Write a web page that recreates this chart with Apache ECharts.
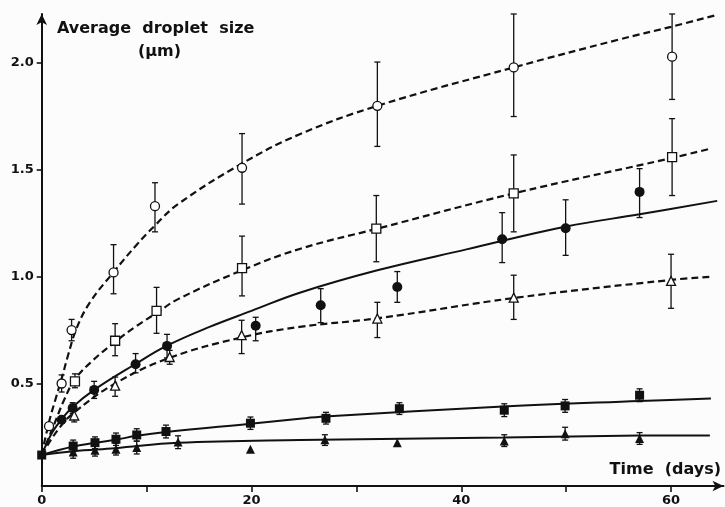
<!DOCTYPE html>
<html>
<head>
<meta charset="utf-8">
<script src="https://cdn.jsdelivr.net/npm/echarts@6/dist/echarts.min.js"></script>
<style>html,body{margin:0;padding:0;background:#fcfcfc;}#c{width:725px;height:507px;}</style>
</head>
<body>
<div id="c"></div>
<script>
// ---- data: [day, mean, errLow, errHigh] ----
const openCircles = [[0.7,0.30,null,null],[1.9,0.50,0.46,0.54],[2.85,0.75,0.70,0.80],[6.85,1.02,0.92,1.15],[10.8,1.33,1.21,1.44],[19.1,1.51,1.34,1.67],[32.0,1.80,1.61,2.005],[45.0,1.98,1.75,2.23],[60.1,2.03,1.83,2.23]];
const openSquares = [[3.17,0.51,0.48,0.545],[7.0,0.70,0.63,0.78],[10.95,0.84,0.735,0.95],[19.1,1.04,0.91,1.19],[31.9,1.225,1.07,1.38],[45.0,1.39,1.21,1.57],[60.1,1.56,1.38,1.74]];
const filledCircles = [[1.9,0.33,null,null],[2.95,0.385,0.36,0.41],[5.0,0.47,0.43,0.51],[8.95,0.59,0.55,0.64],[11.95,0.676,0.62,0.73],[20.4,0.77,0.70,0.81],[26.6,0.866,0.785,0.944],[33.9,0.952,0.88,1.024],[43.9,1.175,1.066,1.30],[49.95,1.227,1.10,1.36],[57.0,1.397,1.277,1.506]];
const openTriangles = [[3.1,0.35,0.32,0.38],[7.0,0.49,0.44,0.53],[12.2,0.624,0.59,0.655],[19.06,0.726,0.64,0.796],[32.0,0.804,0.715,0.88],[45.0,0.902,0.80,1.007],[60.0,0.98,0.852,1.105]];
const filledSquares = [[0,0.165,null,null],[3.0,0.207,0.18,0.235],[5.08,0.223,0.195,0.25],[7.08,0.239,0.21,0.268],[9.06,0.259,0.23,0.288],[11.85,0.275,0.245,0.305],[19.9,0.314,0.285,0.343],[27.1,0.337,0.31,0.365],[34.1,0.382,0.355,0.41],[44.1,0.375,0.345,0.405],[49.9,0.395,0.365,0.425],[57.0,0.445,0.415,0.475]];
const filledTriangles = [[3.0,0.179,0.15,0.205],[5.08,0.187,0.16,0.215],[7.08,0.192,0.165,0.22],[9.06,0.20,0.17,0.23],[13.0,0.226,0.195,0.255],[19.9,0.192,null,null],[27.0,0.236,0.21,0.26],[33.9,0.223,null,null],[44.1,0.231,0.205,0.26],[49.9,0.265,0.235,0.295],[57.0,0.242,0.215,0.27]];

// ---- fitted curves: [day, value] ----
const curveOpenCircles = [[0,0.165],[0.7,0.32],[1.4,0.44],[2.0,0.54],[2.5,0.63],[3.34,0.76],[4.6,0.88],[6.83,1.02],[9.06,1.15],[10.8,1.24],[13,1.34],[19.1,1.53],[24.6,1.667],[32,1.80],[45,1.98],[55,2.11],[60,2.17],[64.3,2.225]];
const curveOpenSquares = [[0,0.165],[1.2,0.31],[2.2,0.43],[3.17,0.52],[4.92,0.61],[7.0,0.695],[9.06,0.77],[10.95,0.83],[13,0.895],[19.1,1.03],[24.6,1.13],[32,1.225],[45,1.39],[60,1.555],[63.8,1.60]];
const curveFilledCircles = [[0,0.165],[1.0,0.27],[1.9,0.333],[2.95,0.39],[5.0,0.47],[8.9,0.59],[11.9,0.676],[16,0.765],[20,0.84],[24.6,0.925],[32,1.03],[40.5,1.128],[50,1.235],[57,1.292],[64.4,1.355]];
const curveOpenTriangles = [[0,0.165],[1.5,0.28],[3,0.36],[7,0.50],[12.2,0.62],[19,0.715],[24.6,0.765],[32,0.805],[45,0.90],[60,0.985],[64,1.0]];
const curveFilledSquares = [[0,0.165],[3,0.205],[5.08,0.222],[7.08,0.237],[9.06,0.255],[11.85,0.273],[19.9,0.312],[24.6,0.335],[27,0.345],[44,0.392],[57,0.418],[63.8,0.43]];
const curveFilledTriangles = [[0,0.165],[3,0.183],[7,0.197],[13,0.222],[24.6,0.235],[44,0.247],[57,0.256],[63.7,0.257]];

const xTicks = [0,10,20,30,40,50,60];
const xLabels = [0,20,40,60];
const yLabels = [0.5,1.0,1.5,2.0];

const chart = echarts.init(document.getElementById('c'));
const FONT = 'DejaVu Sans';

function errSeries(data){
  return {
    type:'custom', z:3, silent:true,
    data: data.filter(d=>d[2]!=null).map(d=>[d[0],d[2],d[3]]),
    renderItem:function(params, api){
      const x = api.value(0);
      const p1 = api.coord([x, api.value(1)]);
      const p2 = api.coord([x, api.value(2)]);
      const w = 3;
      const st = {stroke:'#111', lineWidth:1.3};
      return {type:'group', children:[
        {type:'line', shape:{x1:p1[0],y1:p1[1],x2:p2[0],y2:p2[1]}, style:st},
        {type:'line', shape:{x1:p1[0]-w,y1:p1[1],x2:p1[0]+w,y2:p1[1]}, style:st},
        {type:'line', shape:{x1:p2[0]-w,y1:p2[1],x2:p2[0]+w,y2:p2[1]}, style:st}
      ]};
    }
  };
}
function curve(data, dashed){
  return {type:'line', data:data, smooth:0.4, showSymbol:false, silent:true, z:2,
    lineStyle:{color:'#111', width: dashed?2.2:2, type: dashed?[7,4]:'solid'}};
}
function marks(data, symbol, filled, size){
  return {type:'scatter', data:data.map(d=>[d[0],d[1]]), symbol:symbol, symbolSize:size, z:5, silent:true,
    itemStyle:{color: filled?'#111':'#fff', borderColor:'#111', borderWidth: filled?0:1.3, opacity:1}};
}

chart.setOption({
  animation:false,
  backgroundColor:'#fcfcfc',
  grid:{left:41.7, right:1.5, top:14, bottom:20},
  xAxis:{type:'value', min:0, max:65,
    axisLine:{show:true, lineStyle:{color:'#111', width:2}, symbol:['none','arrow'], symbolSize:[8,11]},
    axisTick:{show:true, customValues:xTicks, length:6, lineStyle:{color:'#111', width:1.6}},
    axisLabel:{customValues:xLabels, color:'#111', fontFamily:FONT, fontWeight:'bold', fontSize:13, margin:8},
    splitLine:{show:false}},
  yAxis:{type:'value', min:0.02, max:2.23,
    axisLine:{show:true, lineStyle:{color:'#111', width:2}, symbol:['none','arrow'], symbolSize:[8,11]},
    axisTick:{show:true, customValues:yLabels, length:5, lineStyle:{color:'#111', width:1.6}},
    axisLabel:{customValues:yLabels, color:'#111', fontFamily:FONT, fontWeight:'bold', fontSize:13, margin:8,
      formatter:v=>v.toFixed(1)},
    splitLine:{show:false}},
  graphic:[
    {type:'text', left:57, top:21, style:{text:'Average  droplet  size', font:'bold 16px "DejaVu Sans"', fill:'#111'}},
    {type:'text', left:138, top:44, style:{text:'(μm)', font:'bold 16px "DejaVu Sans"', fill:'#111'}},
    {type:'text', right:4, top:462, style:{text:'Time  (days)', font:'bold 16px "DejaVu Sans"', fill:'#111'}}
  ],
  series:[
    curve(curveOpenCircles,true),
    curve(curveOpenSquares,true),
    curve(curveFilledCircles,false),
    curve(curveOpenTriangles,true),
    curve(curveFilledSquares,false),
    curve(curveFilledTriangles,false),
    errSeries(openCircles), errSeries(openSquares), errSeries(filledCircles),
    errSeries(openTriangles), errSeries(filledSquares), errSeries(filledTriangles),
    marks(openCircles,'circle',false,9),
    marks(openSquares,'rect',false,9),
    marks(filledCircles,'circle',true,10),
    marks(openTriangles,'triangle',false,9),
    marks(filledSquares,'rect',true,9),
    marks(filledTriangles,'triangle',true,9)
  ]
});
</script>
</body>
</html>
